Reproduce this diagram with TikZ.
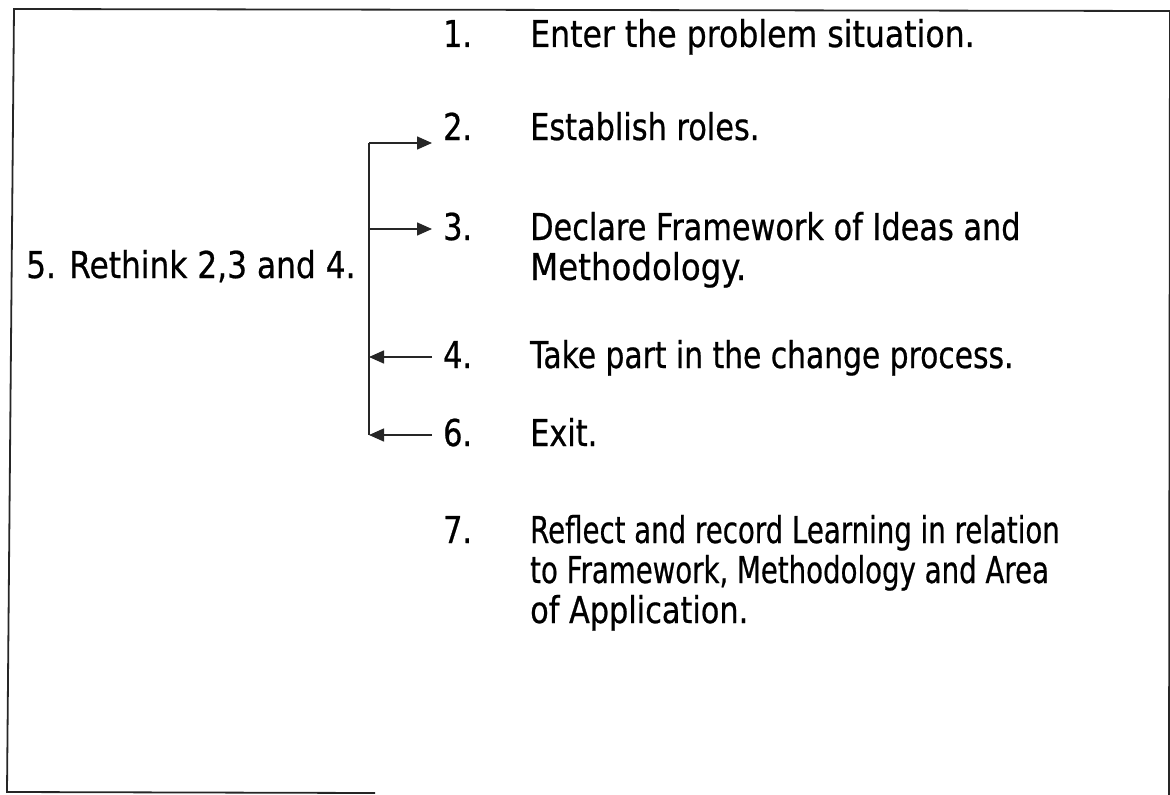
\documentclass[tikz,border=0pt]{standalone}
\usepackage{fontspec}
\setmainfont{DejaVu Sans}[FakeStretch=0.82,FakeBold=0.6]
\usetikzlibrary{arrows.meta}
\begin{document}
\begin{tikzpicture}[x=1bp,y=-1bp,
  txt/.style={anchor=base west, inner sep=0pt, transform shape,
    font=\fontsize{37bp}{40bp}\selectfont},
  sx/.style={xscale=#1},
  frame/.style={draw=black!85, line width=1.8bp},
  conn/.style={draw=black!85, line width=1.5bp},
  arr/.style={conn, -{Triangle[length=15bp,width=13bp]}}]
\useasboundingbox (0,0) rectangle (1170,795);

% outer frame (bottom edge only on the left part)
\coordinate (tl) at (14,9);
\coordinate (tr) at (1170,11);
\coordinate (bl) at (7,792);
\coordinate (bm) at (375,793);
\coordinate (br) at (1169,795);
\draw[frame] (bm) -- (bl) -- (tl) -- (tr);
\draw[frame] (tr) -- (br);

% numbered steps
\node[txt] (n1) at (443,47) {1.};
\node[txt, sx=1.04] (t1) at (530,47) {Enter the problem situation.};
\node[txt] (n2) at (443,140) {2.};
\node[txt] (t2) at (530,140) {Establish roles.};
\node[txt] (n3) at (443,240) {3.};
\node[txt] (t3) at (530,240) {Declare Framework of Ideas and};
\node[txt, sx=1.07] (t3b) at (530,280) {Methodology.};
\node[txt] (n4) at (443,368) {4.};
\node[txt, sx=0.98] (t4) at (530,368) {Take part in the change process.};
\node[txt] (n6) at (443,446) {6.};
\node[txt] (t6) at (530,446) {Exit.};
\node[txt] (n7) at (443,543) {7.};
\node[txt, sx=0.91] (t7) at (530,543) {Reflect and record Learning in relation};
\node[txt, sx=0.91] (t7b) at (530,583) {to Framework, Methodology and Area};
\node[txt] (t7c) at (530,623) {of Application.};

% the rethink loop
\node[txt, sx=1.03] (n5) at (26,278) {5. Rethink 2,3 and 4.};

\coordinate (s2) at (369,143);
\coordinate (s3) at (369,229);
\coordinate (s4) at (369,357);
\coordinate (s6) at (369,435);
\coordinate (a2) at (432,143);
\coordinate (a3) at (432,229);
\coordinate (a4) at (432,357);
\coordinate (a6) at (432,435);

\draw[conn] (s2) -- (s6);
\draw[arr] (s2) -- (a2);
\draw[arr] (s3) -- (a3);
\draw[arr] (a4) -- (s4);
\draw[arr] (a6) -- (s6);
\end{tikzpicture}
\end{document}
